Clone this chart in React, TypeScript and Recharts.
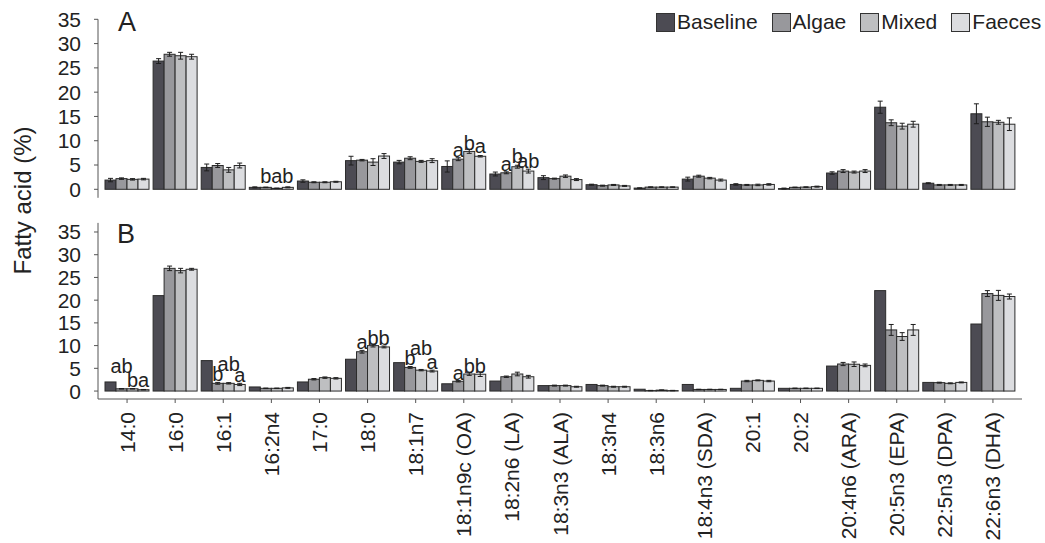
import React from 'react';
import { BarChart, Bar, XAxis, YAxis, ErrorBar } from 'recharts';

const FONT = '"Liberation Sans", Arial, Helvetica, sans-serif';

const categories = [
  '14:0', '16:0', '16:1', '16:2n4', '17:0', '18:0', '18:1n7', '18:1n9c (OA)', '18:2n6 (LA)',
  '18:3n3 (ALA)', '18:3n4', '18:3n6', '18:4n3 (SDA)', '20:1', '20:2', '20:4n6 (ARA)',
  '20:5n3 (EPA)', '22:5n3 (DPA)', '22:6n3 (DHA)',
];

const seriesNames = ['Baseline', 'Algae', 'Mixed', 'Faeces'];
const seriesColors = ['#4c4b53', '#98989c', '#bebfc1', '#dcdde0'];

// Panel A
const baselineA = [1.9, 26.4, 4.5, 0.4, 1.7, 5.9, 5.6, 4.7, 3.15, 2.4, 0.95, 0.25, 2.1, 1.0, 0.15, 3.35, 16.9, 1.25, 15.55];
const baselineAErr = [0.35, 0.5, 0.7, 0.1, 0.25, 0.9, 0.35, 1.15, 0.4, 0.4, 0.1, 0.05, 0.4, 0.15, 0.1, 0.25, 1.25, 0.1, 2.05];
const algaeA = [2.2, 27.8, 4.9, 0.4, 1.45, 6.0, 6.4, 6.2, 3.4, 2.2, 0.75, 0.45, 2.7, 0.9, 0.4, 3.75, 13.7, 0.9, 13.9];
const algaeAErr = [0.15, 0.4, 0.4, 0.05, 0.1, 0.15, 0.3, 0.3, 0.2, 0.1, 0.1, 0.05, 0.2, 0.1, 0.05, 0.3, 0.6, 0.1, 0.95];
const mixedA = [2.05, 27.5, 4.0, 0.2, 1.45, 5.6, 5.75, 7.8, 4.65, 2.7, 0.9, 0.45, 2.3, 0.9, 0.45, 3.55, 13.0, 0.9, 13.8];
const mixedAErr = [0.15, 0.7, 0.5, 0.05, 0.1, 0.7, 0.2, 0.4, 0.3, 0.25, 0.1, 0.05, 0.15, 0.15, 0.05, 0.2, 0.6, 0.1, 0.4];
const faecesA = [2.1, 27.3, 4.9, 0.4, 1.55, 6.85, 5.9, 6.8, 3.75, 2.0, 0.7, 0.45, 1.9, 1.0, 0.55, 3.75, 13.4, 0.9, 13.4];
const faecesAErr = [0.15, 0.5, 0.5, 0.1, 0.1, 0.5, 0.4, 0.15, 0.4, 0.2, 0.1, 0.05, 0.2, 0.15, 0.1, 0.3, 0.6, 0.1, 1.3];

// Panel B
const baselineB = [2.0, 21.0, 6.7, 0.9, 2.0, 7.0, 6.25, 1.6, 2.2, 1.2, 1.45, 0.4, 1.45, 0.6, 0.6, 5.5, 22.1, 1.9, 14.75];
const algaeB = [0.5, 27.0, 1.7, 0.6, 2.6, 8.65, 5.2, 2.15, 3.15, 1.2, 1.2, 0.1, 0.35, 2.2, 0.6, 5.95, 13.45, 1.85, 21.45];
const algaeBErr = [0.05, 0.5, 0.2, 0.05, 0.15, 0.3, 0.2, 0.15, 0.15, 0.1, 0.1, 0.05, 0.05, 0.15, 0.05, 0.35, 1.2, 0.1, 0.65];
const mixedB = [0.5, 26.5, 1.7, 0.6, 2.95, 10.0, 4.6, 3.75, 3.75, 1.2, 0.95, 0.2, 0.35, 2.35, 0.6, 5.9, 12.0, 1.7, 21.05];
const mixedBErr = [0.05, 0.5, 0.15, 0.05, 0.15, 0.3, 0.15, 0.3, 0.4, 0.1, 0.1, 0.05, 0.05, 0.1, 0.05, 0.5, 0.85, 0.1, 1.1];
const faecesB = [0.3, 26.8, 1.45, 0.7, 2.8, 9.7, 4.4, 3.7, 3.15, 0.95, 0.95, 0.1, 0.35, 2.2, 0.6, 5.65, 13.45, 1.9, 20.8];
const faecesBErr = [0.05, 0.2, 0.25, 0.1, 0.15, 0.2, 0.2, 0.5, 0.3, 0.1, 0.1, 0.05, 0.05, 0.15, 0.05, 0.3, 1.2, 0.1, 0.55];

const yTicks = [0, 5, 10, 15, 20, 25, 30, 35];

type Letter = { cat: string; series: string; text: string; y: number };

const lettersA: Letter[] = [
  { cat: '16:2n4', series: 'Algae', text: 'b', y: 1.3 },
  { cat: '16:2n4', series: 'Mixed', text: 'a', y: 1.3 },
  { cat: '16:2n4', series: 'Faeces', text: 'b', y: 1.3 },
  { cat: '18:1n9c (OA)', series: 'Algae', text: 'a', y: 6.7 },
  { cat: '18:1n9c (OA)', series: 'Mixed', text: 'b', y: 8.1 },
  { cat: '18:1n9c (OA)', series: 'Faeces', text: 'a', y: 7.5 },
  { cat: '18:2n6 (LA)', series: 'Algae', text: 'a', y: 3.8 },
  { cat: '18:2n6 (LA)', series: 'Mixed', text: 'b', y: 5.35 },
  { cat: '18:2n6 (LA)', series: 'Faeces', text: 'ab', y: 4.3 },
];

const lettersB: Letter[] = [
  { cat: '14:0', series: 'Algae', text: 'ab', y: 3.9 },
  { cat: '14:0', series: 'Mixed', text: 'b', y: 0.95 },
  { cat: '14:0', series: 'Faeces', text: 'a', y: 0.95 },
  { cat: '16:1', series: 'Algae', text: 'b', y: 2.2 },
  { cat: '16:1', series: 'Mixed', text: 'ab', y: 4.5 },
  { cat: '16:1', series: 'Faeces', text: 'a', y: 2.05 },
  { cat: '18:0', series: 'Algae', text: 'a', y: 9.2 },
  { cat: '18:0', series: 'Mixed', text: 'b', y: 10.1 },
  { cat: '18:0', series: 'Faeces', text: 'b', y: 10.1 },
  { cat: '18:1n7', series: 'Algae', text: 'b', y: 5.7 },
  { cat: '18:1n7', series: 'Mixed', text: 'ab', y: 7.9 },
  { cat: '18:1n7', series: 'Faeces', text: 'a', y: 4.85 },
  { cat: '18:1n9c (OA)', series: 'Algae', text: 'a', y: 2.4 },
  { cat: '18:1n9c (OA)', series: 'Mixed', text: 'b', y: 4.0 },
  { cat: '18:1n9c (OA)', series: 'Faeces', text: 'b', y: 4.0 },
];

function buildRows(vals: number[][], errs: (number[] | null)[]) {
  return categories.map((name, i) => {
    const row: Record<string, any> = { name };
    seriesNames.forEach((s, k) => {
      row[s] = vals[k][i];
      const e = errs[k];
      if (e) row[s + 'Err'] = e[i];
    });
    return row;
  });
}

const rowsA = buildRows([baselineA, algaeA, mixedA, faecesA], [baselineAErr, algaeAErr, mixedAErr, faecesAErr]);
const rowsB = buildRows([baselineB, algaeB, mixedB, faecesB], [null, algaeBErr, mixedBErr, faecesBErr]);

const makeShape = (series: string, fill: string, letters: Letter[]) => (props: any) => {
  const { x, y, width, height, payload } = props;
  const v = payload ? payload[series] : 0;
  const zeroY = y + height;
  const ppu = v > 0 ? height / v : 0;
  const note = payload ? letters.find((l) => l.cat === payload.name && l.series === series) : undefined;
  return (
    <g>
      <rect x={x} y={y} width={width} height={height} fill={fill} stroke="#2b2b2b" strokeWidth={1} />
      {note && (
        <text x={x + width / 2} y={zeroY - note.y * ppu} textAnchor="middle" fontSize={20} fill="#222" fontFamily={FONT}>
          {note.text}
        </text>
      )}
    </g>
  );
};

const XTick = (props: any) => {
  const { x, y, payload } = props;
  return (
    <text
      x={x}
      y={y}
      transform={`rotate(-90, ${x}, ${y})`}
      dy="0.36em"
      textAnchor="end"
      fontSize={21}
      fill="#222"
      fontFamily={FONT}
    >
      {payload.value}
    </text>
  );
};

const yTickStyle = { fontSize: 21, fill: '#222', fontFamily: FONT };

function Panel({ rows, letters, height, margin, domain, showX, errs }: any) {
  return (
    <BarChart
      width={1045}
      height={height}
      data={rows}
      margin={margin}
      barCategoryGap={2}
      barGap={0}
    >
      <XAxis
        dataKey="name"
        hide={!showX}
        padding={{ left: 5, right: 5 }}
        interval={0}
        height={144}
        tickSize={4}
        tickMargin={9}
        stroke="#555"
        tickLine={{ stroke: '#555' }}
        axisLine={{ stroke: '#555' }}
        tick={<XTick />}
      />
      <YAxis
        type="number"
        domain={domain}
        ticks={yTicks}
        interval={0}
        allowDataOverflow
        width={98}
        tickSize={4}
        tickMargin={13}
        stroke="#555"
        axisLine={{ stroke: '#555' }}
        tickLine={{ stroke: '#555' }}
        tick={yTickStyle}
      />
      {seriesNames.map((s, k) => (
        <Bar
          key={s}
          dataKey={s}
          fill={seriesColors[k]}
          isAnimationActive={false}
          shape={makeShape(s, seriesColors[k], letters)}
        >
          {errs[k] && (
            <ErrorBar dataKey={s + 'Err'} width={2.5} stroke="#1e1e1e" strokeWidth={1} direction="y" />
          )}
        </Bar>
      ))}
    </BarChart>
  );
}

export default function App() {
  return (
    <div style={{ position: 'absolute', left: 0, top: 0, width: 1045, height: 543, background: '#fff', fontFamily: FONT }}>
      <div style={{ position: 'absolute', left: 0, top: 0 }}>
        <Panel
          rows={rowsA}
          letters={lettersA}
          height={200}
          margin={{ top: 19.3, right: 23, bottom: 2.2, left: 0 }}
          domain={[-1.75, 35]}
          showX={false}
          errs={[true, true, true, true]}
        />
      </div>
      <div style={{ position: 'absolute', left: 0, top: 200 }}>
        <Panel
          rows={rowsB}
          letters={lettersB}
          height={343}
          margin={{ top: 22.9, right: 23, bottom: 0, left: 0 }}
          domain={[-1.75, 37]}
          showX={true}
          errs={[false, true, true, true]}
        />
      </div>
      <svg width={1045} height={543} style={{ position: 'absolute', left: 0, top: 0, pointerEvents: 'none' }}>
        <text
          x={22}
          y={200.5}
          transform="rotate(-90, 22, 200.5)"
          textAnchor="middle"
          dominantBaseline="central"
          fontSize={24}
          fill="#222"
          fontFamily={FONT}
        >
          Fatty acid (%)
        </text>
        <text x={118} y={30.5} fontSize={27} fill="#222" fontFamily={FONT}>A</text>
        <text x={117} y={242.5} fontSize={27} fill="#222" fontFamily={FONT}>B</text>
      </svg>
      <div
        style={{
          position: 'absolute',
          left: 656,
          top: 12,
          display: 'flex',
          alignItems: 'center',
          gap: 14,
          fontSize: 21,
          color: '#222',
          fontFamily: FONT,
          whiteSpace: 'nowrap',
        }}
      >
        {seriesNames.map((s, k) => (
          <div key={s} style={{ display: 'flex', alignItems: 'center' }}>
            <div
              style={{
                width: 17,
                height: 17,
                background: seriesColors[k],
                border: '1px solid #333',
                marginRight: 2,
              }}
            />
            <span style={{ lineHeight: '20px' }}>{s}</span>
          </div>
        ))}
      </div>
    </div>
  );
}
